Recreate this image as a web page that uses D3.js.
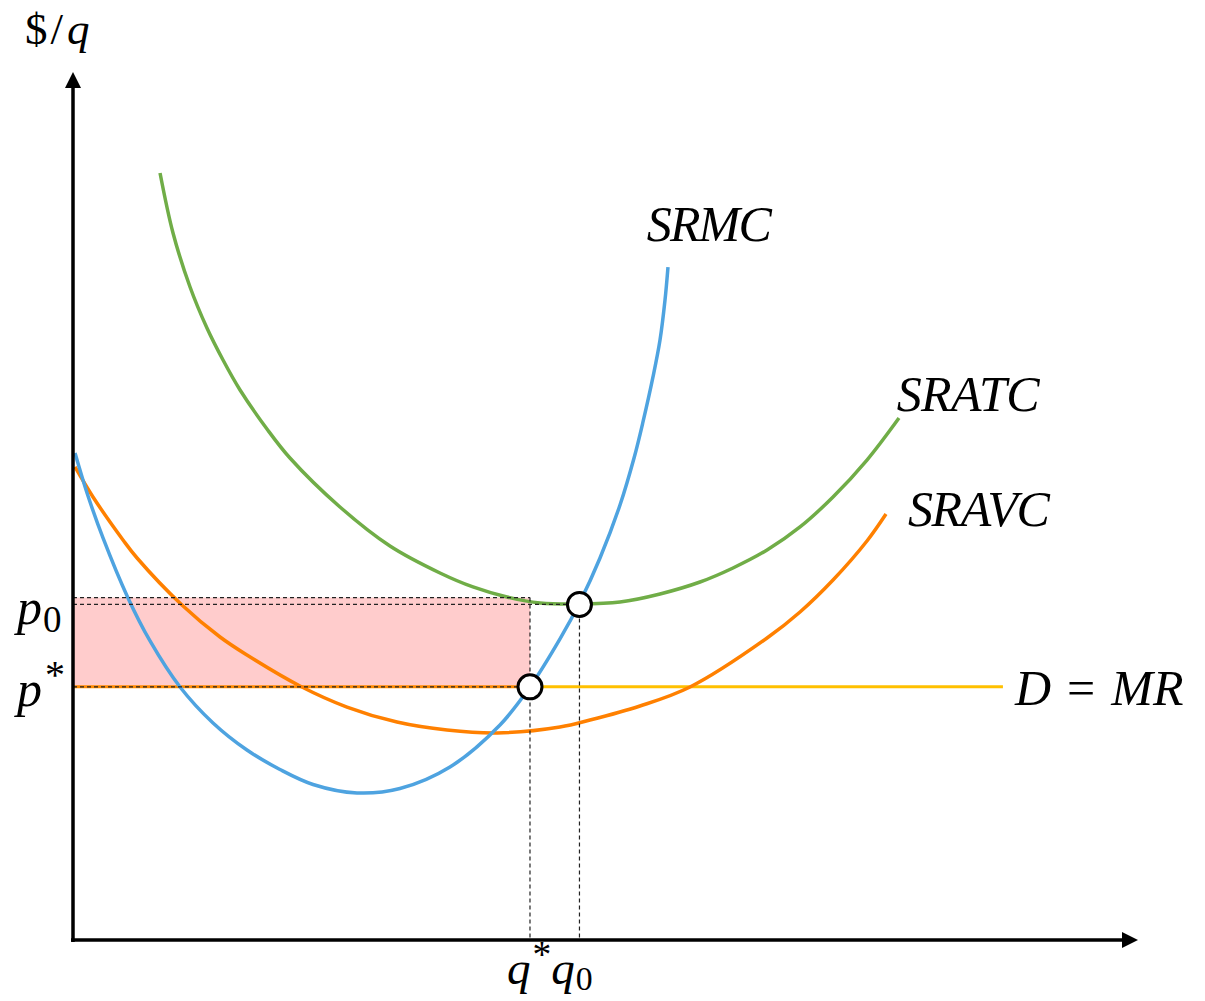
<!DOCTYPE html>
<html>
<head>
<meta charset="utf-8">
<script src="https://cdn.jsdelivr.net/npm/d3@7"></script>
<style>
  body { margin: 0; background: #fff; }
  text { font-family: "Liberation Serif", "DejaVu Serif", serif; fill: #000; }
</style>
</head>
<body>
<div id="chart"></div>
<script>
// cost curves, q and $ in chart units (0-100)
const srmc = [
  [0.19, 56.17], [1.32, 51.56], [2.82, 46.37], [5.17, 39.45], [7.24, 34.49], [10.06, 29.18],
  [13.16, 25.03], [16.35, 21.91], [19.45, 19.67], [22.56, 17.94], [26.69, 16.96], [30.73, 17.47],
  [35.43, 19.95], [40.13, 24.80], [42.95, 29.18], [45.77, 34.72], [47.65, 38.98], [49.53, 44.06],
  [51.41, 50.17], [52.73, 55.59], [53.57, 59.75], [54.51, 64.94], [55.17, 69.20], [55.64, 73.82],
  [55.92, 77.62]
];
const sratc = [
  [8.18, 88.47], [9.40, 81.55], [11.00, 75.32], [12.59, 70.59], [14.10, 66.90], [15.70, 63.44],
  [18.23, 58.94], [20.39, 55.59], [25.09, 49.94], [29.79, 45.44], [34.49, 42.33], [37.59, 40.72],
  [40.79, 39.56], [43.89, 38.87], [47.65, 38.75], [51.41, 38.98], [55.17, 39.91], [58.93, 41.29],
  [62.03, 42.91], [65.23, 44.98], [68.33, 47.64], [71.43, 51.10], [74.62, 55.36], [77.63, 60.21]
];
const sravc = [
  [0.19, 54.56], [1.88, 51.10], [4.70, 46.14], [6.02, 44.06], [10.24, 38.64], [13.82, 34.95],
  [16.35, 32.87], [21.33, 29.30], [25.75, 26.87], [30.45, 25.14], [35.15, 24.22], [39.85, 23.88],
  [45.77, 24.57], [48.59, 25.37], [53.29, 26.99], [57.99, 29.18], [65.23, 34.83], [68.33, 37.83],
  [71.43, 41.52], [74.62, 46.02], [76.41, 49.13]
];

const pStar = 29.2;    // price = MR
const p0 = 38.7;       // min ATC
const boxTop = 39.5;   // top of loss box
const qStar = 42.95;
const q0 = 47.6;
const demandEnd = 87.4;

const width = 1205, height = 1001;
const x = d3.scaleLinear().domain([0, 100]).range([73, 1137]);
const y = d3.scaleLinear().domain([0, 100]).range([940, 73]);

const svg = d3.select("#chart").append("svg")
  .attr("width", width)
  .attr("height", height);

const line = d3.line()
  .x(d => x(d[0]))
  .y(d => y(d[1]))
  .curve(d3.curveCatmullRom.alpha(0.5));

// loss rectangle
svg.append("rect")
  .attr("x", x(0))
  .attr("y", y(boxTop))
  .attr("width", x(qStar) - x(0))
  .attr("height", y(pStar) - y(boxTop))
  .attr("fill", "#ffcccc");

// p* segment inside box (orange under the dashes)
svg.append("line")
  .attr("x1", x(0)).attr("x2", x(qStar))
  .attr("y1", y(pStar)).attr("y2", y(pStar))
  .attr("stroke", "#ff8a00").attr("stroke-width", 3);

// demand line
svg.append("line")
  .attr("x1", x(qStar)).attr("x2", x(demandEnd))
  .attr("y1", y(pStar)).attr("y2", y(pStar))
  .attr("stroke", "#ffc000").attr("stroke-width", 3);

// curves
const curves = [
  { data: sravc, color: "#ff8000" },
  { data: sratc, color: "#70ad47" },
  { data: srmc, color: "#4ea3e0" }
];
svg.selectAll(".curve")
  .data(curves)
  .enter().append("path")
  .attr("class", "curve")
  .attr("d", d => line(d.data))
  .attr("fill", "none")
  .attr("stroke", d => d.color)
  .attr("stroke-width", 3.5);

// dashed guides
const guides = [
  [[0, boxTop], [qStar, boxTop]],
  [[0, p0], [q0, p0]],
  [[0, pStar], [qStar, pStar]],
  [[qStar, boxTop], [qStar, 0]],
  [[q0, p0], [q0, 0]]
];
svg.selectAll(".guide")
  .data(guides)
  .enter().append("line")
  .attr("class", "guide")
  .attr("x1", d => x(d[0][0])).attr("y1", d => y(d[0][1]))
  .attr("x2", d => x(d[1][0])).attr("y2", d => y(d[1][1]))
  .attr("stroke", "#222").attr("stroke-width", 1.2)
  .attr("stroke-dasharray", "4,3");

// axes with arrowheads
svg.append("line")
  .attr("x1", x(0)).attr("y1", y(0) + 2).attr("x2", x(0)).attr("y2", y(100) + 12)
  .attr("stroke", "#000").attr("stroke-width", 3.5);
svg.append("line")
  .attr("x1", x(0) - 2).attr("y1", y(0)).attr("x2", x(100) - 12).attr("y2", y(0))
  .attr("stroke", "#000").attr("stroke-width", 3.5);
svg.append("path")
  .attr("d", `M${x(0)},${y(100) - 1} L${x(0) - 8},${y(100) + 15} L${x(0) + 8},${y(100) + 15} Z`)
  .attr("fill", "#000");
svg.append("path")
  .attr("d", `M${x(100) + 1},${y(0)} L${x(100) - 15},${y(0) - 8} L${x(100) - 15},${y(0) + 8} Z`)
  .attr("fill", "#000");

// intersection points
svg.selectAll(".pt")
  .data([[qStar, pStar], [q0, p0]])
  .enter().append("circle")
  .attr("class", "pt")
  .attr("cx", d => x(d[0])).attr("cy", d => y(d[1]))
  .attr("r", 12)
  .attr("fill", "#fff").attr("stroke", "#000").attr("stroke-width", 3);

// labels: parts are {t, i (italic), s (scale), dy, dx}
function label(px, py, fs, parts, len) {
  const t = svg.append("text")
    .attr("x", px).attr("y", py)
    .attr("font-size", fs);
  parts.forEach(p => {
    const s = t.append("tspan").text(p.t);
    if (p.i) s.attr("font-style", "italic");
    if (p.s) s.attr("font-size", fs * p.s);
    if (p.dy) s.attr("dy", p.dy);
    if (p.dx) s.attr("dx", p.dx);
  });
  if (len) t.attr("textLength", len).attr("lengthAdjust", "spacing");
  return t;
}

label(25, 44, 45, [{t: "$"}, {t: "/", dx: 3}, {t: "q", i: true, dx: 4}]);
label(x(55.9) - 21, y(77.6) - 26, 50, [{t: "SRMC", i: true}], 125);
label(x(77.6) - 2, y(60.2) - 7, 50, [{t: "SRATC", i: true}], 143);
label(x(76.4) + 22, y(49.3) + 13, 50, [{t: "SRAVC", i: true}], 142);
label(x(demandEnd) + 12, y(pStar) + 18, 50, [{t: "D", i: true}, {t: "=", dx: 16}, {t: "MR", i: true, dx: 16}]);

// price ticks
label(17, y(p0) + 20, 50, [{t: "p", i: true}, {t: "0", s: 0.74, dy: 8, dx: 1}]);
label(17, y(pStar) + 19, 50, [{t: "p", i: true}, {t: "*", s: 0.8, dy: -18, dx: 3}]);
// quantity ticks
label(507, 984, 47, [
  {t: "q", i: true},
  {t: "*", s: 0.8, dy: -17, dx: 2},
  {t: "q", i: true, dy: 17},
  {t: "0", s: 0.72, dy: 6, dx: 1}
]);
</script>
</body>
</html>
